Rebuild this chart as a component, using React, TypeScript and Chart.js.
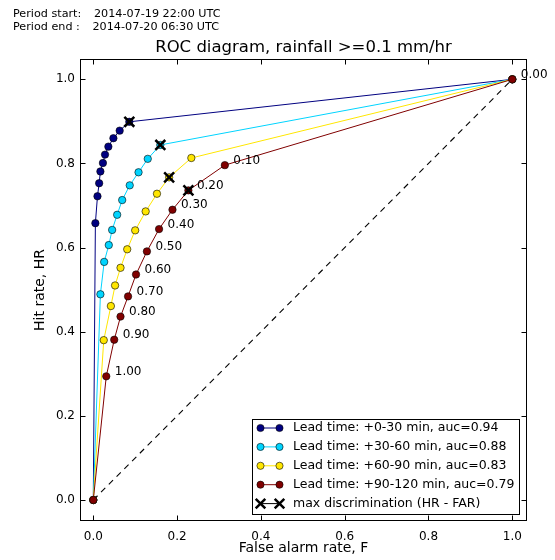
import React, { useEffect, useRef } from 'react';
import { Chart, registerables } from 'chart.js';

Chart.register(...registerables);

// Probability thresholds, lowest point first; the last one sits at (1, 1)
const thresholds = ['1.00', '0.90', '0.80', '0.70', '0.60', '0.50', '0.40', '0.30', '0.20', '0.10', '0.00'];

// False alarm rate (F) and hit rate (HR): origin, thresholds 1.00 ... 0.10, then (1, 1)
const farLead0 = [0, 0.005, 0.010, 0.014, 0.017, 0.023, 0.028, 0.036, 0.048, 0.063, 0.086, 1];
const hrLead0 = [0, 0.658, 0.722, 0.753, 0.781, 0.801, 0.821, 0.840, 0.860, 0.878, 0.899, 1];
const farLead30 = [0, 0.017, 0.026, 0.037, 0.045, 0.057, 0.069, 0.087, 0.108, 0.130, 0.160, 1];
const hrLead30 = [0, 0.489, 0.566, 0.606, 0.642, 0.678, 0.713, 0.748, 0.779, 0.811, 0.844, 1];
const farLead60 = [0, 0.025, 0.042, 0.052, 0.065, 0.081, 0.100, 0.125, 0.152, 0.181, 0.234, 1];
const hrLead60 = [0, 0.380, 0.461, 0.510, 0.552, 0.596, 0.641, 0.686, 0.728, 0.767, 0.813, 1];
const farLead90 = [0, 0.031, 0.050, 0.065, 0.083, 0.102, 0.128, 0.157, 0.189, 0.227, 0.314, 1];
const hrLead90 = [0, 0.294, 0.381, 0.436, 0.484, 0.536, 0.591, 0.644, 0.690, 0.736, 0.796, 1];

const leadTimes = ['+0-30', '+30-60', '+60-90', '+90-120'];
const aucValues = [0.94, 0.88, 0.83, 0.79];
// index of the point with the largest HR - FAR on each curve
const maxDiscIndex = [10, 10, 9, 9];
const curveColors = ['#000080', '#00d4ff', '#ffe600', '#800000'];

const tickValues = [0, 0.2, 0.4, 0.6, 0.8, 1.0];

const periodStart = '2014-07-19 22:00 UTC';
const periodEnd = '2014-07-20 06:30 UTC';
const titleText = 'ROC diagram, rainfall >=0.1 mm/hr';

const FONT = '"DejaVu Sans", sans-serif';

const farSeries = [farLead0, farLead30, farLead60, farLead90];
const hrSeries = [hrLead0, hrLead30, hrLead60, hrLead90];

// dataset index of the +90-120 min curve, whose points carry the threshold labels
const LABELLED_CURVE = 7;

function drawX(ctx: CanvasRenderingContext2D, x: number, y: number, h: number) {
  ctx.beginPath();
  ctx.moveTo(x - h, y - h);
  ctx.lineTo(x + h, y + h);
  ctx.moveTo(x - h, y + h);
  ctx.lineTo(x + h, y - h);
  ctx.stroke();
}

const decorPlugin = {
  id: 'rocDecor',
  afterDraw(chart: any) {
    const ctx: CanvasRenderingContext2D = chart.ctx;
    const { left, right, top, bottom } = chart.chartArea;
    const xs = chart.scales.x;
    const ys = chart.scales.y;
    ctx.save();

    // threshold labels along the last curve
    const redMeta = chart.getDatasetMeta(LABELLED_CURVE);
    ctx.fillStyle = '#000';
    ctx.font = `12px ${FONT}`;
    ctx.textAlign = 'left';
    ctx.textBaseline = 'middle';
    thresholds.forEach((t, i) => {
      const p = redMeta.data[i + 1];
      if (p) ctx.fillText(t, p.x + 8.5, p.y - 4.5);
    });

    // frame
    ctx.strokeStyle = '#000';
    ctx.lineWidth = 1;
    const L = Math.round(left) + 0.5;
    const R = Math.round(right) - 0.5;
    const T = Math.round(top) + 0.5;
    const B = Math.round(bottom) - 0.5;
    ctx.strokeRect(L, T, R - L, B - T);

    // inward ticks on all four sides
    const tl = 5;
    ctx.beginPath();
    tickValues.forEach((v) => {
      const px = Math.round(xs.getPixelForValue(v)) + 0.5;
      ctx.moveTo(px, B);
      ctx.lineTo(px, B - tl);
      ctx.moveTo(px, T);
      ctx.lineTo(px, T + tl);
      const py = Math.round(ys.getPixelForValue(v)) + 0.5;
      ctx.moveTo(L, py);
      ctx.lineTo(L + tl, py);
      ctx.moveTo(R, py);
      ctx.lineTo(R - tl, py);
    });
    ctx.stroke();

    // legend
    const lgW = 267;
    const lgH = 95;
    const lgR = R - 7;
    const lgB = B - 6;
    const lgL = lgR - lgW;
    const lgT = lgB - lgH;
    ctx.fillStyle = '#fff';
    ctx.fillRect(lgL, lgT, lgW, lgH);
    ctx.strokeStyle = '#000';
    ctx.strokeRect(lgL, lgT, lgW, lgH);
    const rowH = 18.9;
    const x1 = lgL + 8;
    const x2 = lgL + 27;
    ctx.font = `12.5px ${FONT}`;
    ctx.textBaseline = 'middle';
    ctx.textAlign = 'left';
    leadTimes.forEach((lt, i) => {
      const y = lgT + 8.5 + i * rowH;
      ctx.strokeStyle = curveColors[i];
      ctx.lineWidth = 1;
      ctx.beginPath();
      ctx.moveTo(x1, y);
      ctx.lineTo(x2, y);
      ctx.stroke();
      [x1, x2].forEach((mx) => {
        ctx.beginPath();
        ctx.arc(mx, y, 3.6, 0, Math.PI * 2);
        ctx.fillStyle = curveColors[i];
        ctx.fill();
        ctx.lineWidth = 0.6;
        ctx.strokeStyle = '#000';
        ctx.stroke();
      });
      ctx.fillStyle = '#000';
      ctx.fillText(`Lead time: ${lt} min, auc=${aucValues[i].toFixed(2)}`, lgL + 40.5, y);
    });
    {
      const y = lgT + 8.5 + 4 * rowH;
      ctx.strokeStyle = '#000';
      ctx.lineWidth = 1;
      ctx.beginPath();
      ctx.moveTo(x1, y);
      ctx.lineTo(x2, y);
      ctx.stroke();
      ctx.lineWidth = 2.5;
      drawX(ctx, x1, y, 4.8);
      drawX(ctx, x2, y, 4.8);
      ctx.fillStyle = '#000';
      ctx.fillText('max discrimination (HR - FAR)', lgL + 40.5, y);
    }

    // header, title and axis titles
    ctx.fillStyle = '#000';
    ctx.textAlign = 'left';
    ctx.textBaseline = 'middle';
    ctx.font = `11.2px ${FONT}`;
    ctx.fillText('Period start:', 13, 14);
    ctx.fillText(periodStart, 94, 14);
    ctx.fillText('Period end :', 13, 27.5);
    ctx.fillText(periodEnd, 92.5, 27.5);

    ctx.textAlign = 'center';
    ctx.font = `16.5px ${FONT}`;
    ctx.fillText(titleText, (L + R) / 2, 47.5);

    ctx.font = `14px ${FONT}`;
    ctx.fillText('False alarm rate, F', (L + R) / 2, 548);
    ctx.save();
    ctx.translate(40.5, (T + B) / 2);
    ctx.rotate(-Math.PI / 2);
    ctx.fillText('Hit rate, HR', 0, 0);
    ctx.restore();

    ctx.restore();
  },
};

export default function App() {
  const canvasRef = useRef<HTMLCanvasElement | null>(null);

  useEffect(() => {
    const canvas = canvasRef.current;
    if (!canvas) return;

    const diagonal: any = {
      data: [
        { x: 0, y: 0 },
        { x: 1, y: 1 },
      ],
      showLine: true,
      borderColor: '#000',
      borderWidth: 1.1,
      borderDash: [6, 5],
      pointRadius: 0,
      order: 20,
    };
    const curves: any[] = [];
    const markers: any[] = [];
    farSeries.forEach((far, k) => {
      curves.push({
        data: far.map((f, i) => ({ x: f, y: hrSeries[k][i] })),
        showLine: true,
        borderColor: curveColors[k],
        borderWidth: 1,
        pointRadius: 3.7,
        pointBackgroundColor: curveColors[k],
        pointBorderColor: '#000',
        pointBorderWidth: 0.6,
        order: 18 - k * 4,
      });
      const m = maxDiscIndex[k];
      markers.push({
        data: [{ x: far[m], y: hrSeries[k][m] }],
        showLine: false,
        pointStyle: 'crossRot',
        pointRadius: 7,
        borderColor: '#000',
        pointBorderColor: '#000',
        pointBorderWidth: 2.5,
        order: 17 - k * 4,
      });
    });
    // drawing order comes from `order`; the array position only fixes LABELLED_CURVE
    const ordered = [diagonal, markers[0], markers[1], markers[2], curves[0], curves[1], curves[2], curves[3], markers[3]];

    const chart = new Chart(canvas, {
      type: 'scatter',
      data: { datasets: ordered },
      options: {
        responsive: false,
        animation: false,
        devicePixelRatio: 1,
        layout: { padding: { left: 0, top: 59, right: 28, bottom: 0 } },
        plugins: {
          legend: { display: false },
          tooltip: { enabled: false },
          title: { display: false },
        },
        elements: { line: { tension: 0 } },
        scales: {
          x: {
            type: 'linear',
            min: -0.0317,
            max: 1.0351,
            grid: { display: false, drawTicks: false },
            border: { display: false },
            afterFit: (s: any) => {
              s.height = 39;
            },
            afterBuildTicks: (s: any) => {
              s.ticks = tickValues.map((v) => ({ value: v }));
            },
            ticks: {
              padding: 9,
              color: '#000',
              font: { family: FONT, size: 12 },
              maxRotation: 0,
              callback: (v: any) => Number(v).toFixed(1),
            },
          },
          y: {
            type: 'linear',
            min: -0.0499,
            max: 1.0483,
            grid: { display: false, drawTicks: false },
            border: { display: false },
            afterFit: (s: any) => {
              s.width = 80;
            },
            afterBuildTicks: (s: any) => {
              s.ticks = tickValues.map((v) => ({ value: v }));
            },
            ticks: {
              padding: 5,
              color: '#000',
              font: { family: FONT, size: 12 },
              callback: (v: any) => Number(v).toFixed(1),
            },
          },
        },
      },
      plugins: [decorPlugin],
    });

    return () => chart.destroy();
  }, []);

  return (
    <div style={{ position: 'fixed', left: 0, top: 0, width: 555, height: 560, background: '#fff' }}>
      <canvas ref={canvasRef} width={555} height={560} style={{ width: 555, height: 560, display: 'block' }} />
    </div>
  );
}
